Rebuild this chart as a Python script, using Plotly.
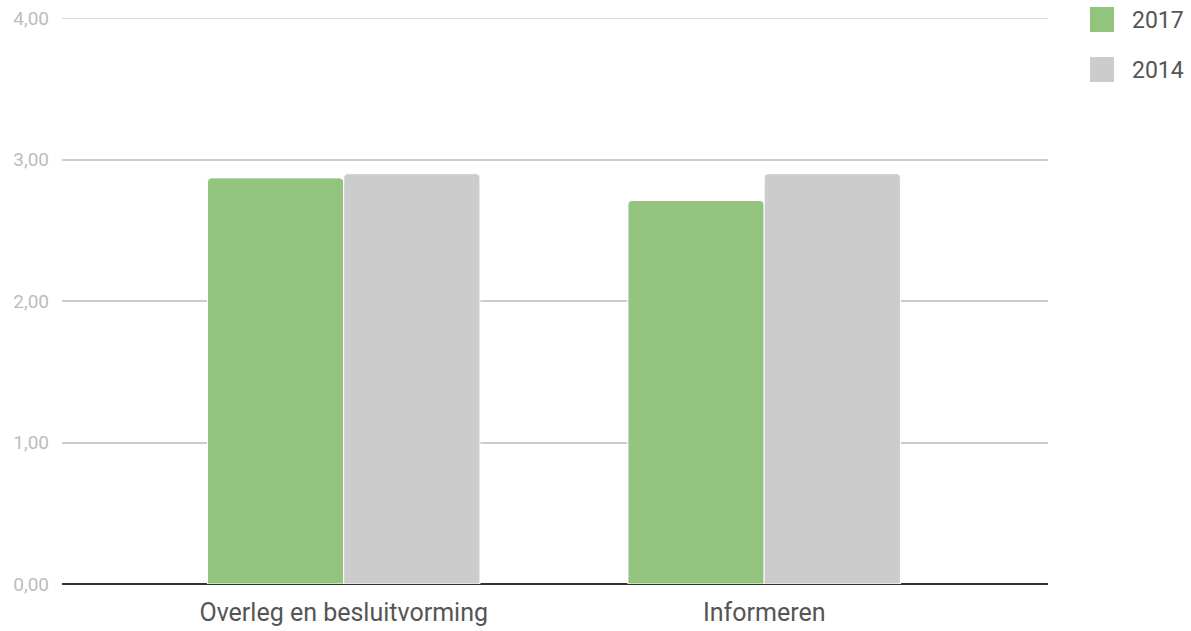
import plotly.graph_objects as go

categories = ["Overleg en besluitvorming", "Informeren"]
series_names = ["2017", "2014"]
values_2017 = [2.87, 2.71]
values_2014 = [2.90, 2.90]
colors = ["#93c47d", "#cccccc"]
y_ticks = [0, 1, 2, 3, 4]

W, H = 1191, 631
L, R, T, B = 62, 143, 18, 47
pw, ph = W - L - R, H - T - B

def px_x(x):
    return (x - L) / pw

def px_y(y):
    return (H - B - y) / ph

fig = go.Figure()
for name, vals, col in zip(series_names, [values_2017, values_2014], colors):
    fig.add_trace(go.Bar(
        x=categories, y=vals, name=name,
        marker=dict(color=col, line=dict(color="white", width=1), cornerradius=4),
        showlegend=False,
    ))

# top gridline (plotly drops gridlines lying on the plot edge)
fig.add_shape(type="line", xref="paper", yref="y", x0=0, x1=1, y0=y_ticks[-1], y1=y_ticks[-1],
              line=dict(color="#cccccc", width=1.5), layer="below")

# legend drawn in paper coordinates
for i, (name, col) in enumerate(zip(series_names, colors)):
    top = 7 + i * 50
    fig.add_shape(type="rect", xref="paper", yref="paper",
                  x0=px_x(1090), x1=px_x(1114), y0=px_y(top + 25), y1=px_y(top),
                  fillcolor=col, line=dict(width=0), layer="above")
    fig.add_annotation(xref="paper", yref="paper", x=px_x(1130), y=px_y(top + 13),
                       text=name, showarrow=False, xanchor="left", yanchor="middle",
                       font=dict(size=23, color="#555555", family="Roboto"))

fig.update_layout(
    width=W, height=H,
    margin=dict(l=L, r=R, t=T, b=B, autoexpand=False),
    paper_bgcolor="white", plot_bgcolor="white",
    barmode="group", bargap=0.352, bargroupgap=0.0,
    separators=",.",
    font=dict(family="Roboto", color="#555555"),
    xaxis=dict(range=[-0.67, 1.675], showgrid=False, showline=False, zeroline=False,
               tickfont=dict(size=25, color="#555555"), ticks="", ticklabelstandoff=11),
    yaxis=dict(range=[0, 4], tickvals=y_ticks, tickformat=".2f", showgrid=True,
               gridcolor="#cccccc", gridwidth=1.5, zeroline=True, zerolinecolor="#333333",
               zerolinewidth=2, showline=False,
               tickfont=dict(size=19, color="#bdbdbd"), ticklabelstandoff=12),
)
fig.write_html("out.html", config={"displayModeBar": False},
               post_script="document.body.style.margin='0';document.body.style.overflow='hidden';")
